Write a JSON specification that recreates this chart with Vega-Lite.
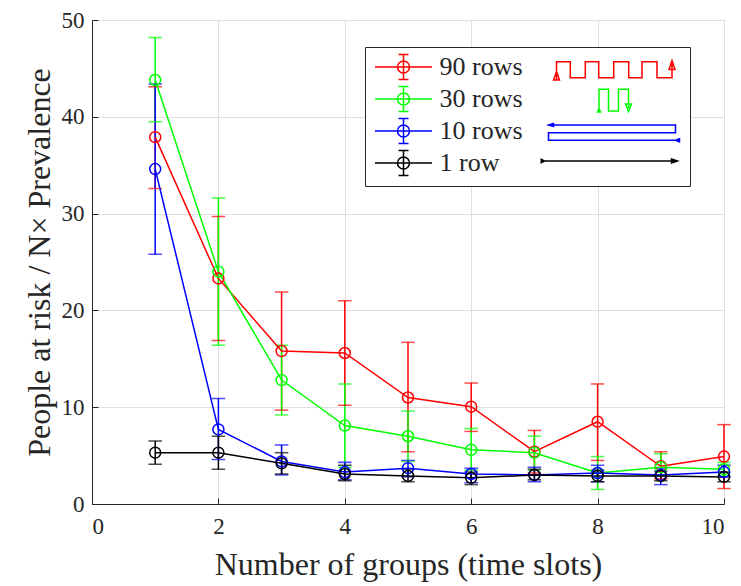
{
  "$schema": "https://vega.github.io/schema/vega-lite/v6.json",
  "autosize": {"type": "none"},
  "width": 632,
  "height": 484,
  "padding": {"left": 92, "top": 20, "right": 17, "bottom": 82},
  "background": "white",
  "config": {
    "font": "Liberation Serif",
    "view": {"stroke": "#262626", "strokeWidth": 1},
    "axis": {
      "domainColor": "#262626",
      "tickColor": "#262626",
      "labelColor": "#262626",
      "titleColor": "#262626",
      "gridColor": "#dfdfdf",
      "gridWidth": 1,
      "labelFont": "Liberation Serif",
      "titleFont": "Liberation Serif",
      "labelFontSize": 23,
      "titleFontSize": 32,
      "titleFontWeight": "normal",
      "tickSize": -6
    },
    "legend": {
      "orient": "none", "legendX": 273, "legendY": 27,
      "symbolSize": 400,
      "symbolStrokeWidth": 1.5,
      "symbolFillColor": "transparent",
      "symbolOpacity": 1,
      "symbolOffset": 18.5,
      "labelOffset": 23,
      "labelFont": "Liberation Serif",
      "labelFontSize": 26,
      "labelColor": "#262626",
      "rowPadding": 0,
      "padding": 7,
      "strokeColor": "#262626",
      "fillColor": "white"
    }
  },
  "data": {"values": [
    {"series": "90 rows", "group": 1, "value": 37.9, "lo": 32.6, "hi": 43.1},
    {"series": "90 rows", "group": 2, "value": 23.3, "lo": 16.9, "hi": 29.7},
    {"series": "90 rows", "group": 3, "value": 15.8, "lo": 9.7, "hi": 21.9},
    {"series": "90 rows", "group": 4, "value": 15.6, "lo": 10.2, "hi": 21.0},
    {"series": "90 rows", "group": 5, "value": 11.0, "lo": 5.4, "hi": 16.7},
    {"series": "90 rows", "group": 6, "value": 10.05, "lo": 7.5, "hi": 12.5},
    {"series": "90 rows", "group": 7, "value": 5.4, "lo": 3.2, "hi": 7.6},
    {"series": "90 rows", "group": 8, "value": 8.5, "lo": 4.5, "hi": 12.4},
    {"series": "90 rows", "group": 9, "value": 3.9, "lo": 2.6, "hi": 5.4},
    {"series": "90 rows", "group": 10, "value": 4.9, "lo": 1.6, "hi": 8.2},
    {"series": "30 rows", "group": 1, "value": 43.8, "lo": 39.5, "hi": 48.2},
    {"series": "30 rows", "group": 2, "value": 24.0, "lo": 16.4, "hi": 31.6},
    {"series": "30 rows", "group": 3, "value": 12.8, "lo": 9.2, "hi": 16.4},
    {"series": "30 rows", "group": 4, "value": 8.1, "lo": 3.8, "hi": 12.4},
    {"series": "30 rows", "group": 5, "value": 7.0, "lo": 4.4, "hi": 9.6},
    {"series": "30 rows", "group": 6, "value": 5.6, "lo": 3.5, "hi": 7.8},
    {"series": "30 rows", "group": 7, "value": 5.3, "lo": 3.5, "hi": 7.0},
    {"series": "30 rows", "group": 8, "value": 3.2, "lo": 1.5, "hi": 4.9},
    {"series": "30 rows", "group": 9, "value": 3.8, "lo": 2.9, "hi": 5.2},
    {"series": "30 rows", "group": 10, "value": 3.6, "lo": 2.9, "hi": 4.3},
    {"series": "10 rows", "group": 1, "value": 34.6, "lo": 25.8, "hi": 43.4},
    {"series": "10 rows", "group": 2, "value": 7.7, "lo": 4.6, "hi": 10.9},
    {"series": "10 rows", "group": 3, "value": 4.4, "lo": 3.0, "hi": 6.1},
    {"series": "10 rows", "group": 4, "value": 3.3, "lo": 2.5, "hi": 4.3},
    {"series": "10 rows", "group": 5, "value": 3.7, "lo": 2.8, "hi": 4.5},
    {"series": "10 rows", "group": 6, "value": 3.1, "lo": 2.2, "hi": 3.7},
    {"series": "10 rows", "group": 7, "value": 3.0, "lo": 2.3, "hi": 3.8},
    {"series": "10 rows", "group": 8, "value": 3.2, "lo": 2.3, "hi": 4.0},
    {"series": "10 rows", "group": 9, "value": 3.0, "lo": 2.0, "hi": 3.7},
    {"series": "10 rows", "group": 10, "value": 3.3, "lo": 2.8, "hi": 4.0},
    {"series": "1 row", "group": 1, "value": 5.3, "lo": 4.1, "hi": 6.5},
    {"series": "1 row", "group": 2, "value": 5.3, "lo": 3.6, "hi": 7.0},
    {"series": "1 row", "group": 3, "value": 4.2, "lo": 3.1, "hi": 5.3},
    {"series": "1 row", "group": 4, "value": 3.1, "lo": 2.4, "hi": 4.0},
    {"series": "1 row", "group": 5, "value": 2.9, "lo": 2.3, "hi": 3.6},
    {"series": "1 row", "group": 6, "value": 2.7, "lo": 2.0, "hi": 3.3},
    {"series": "1 row", "group": 7, "value": 3.0, "lo": 2.5, "hi": 3.6},
    {"series": "1 row", "group": 8, "value": 2.9, "lo": 2.3, "hi": 3.5},
    {"series": "1 row", "group": 9, "value": 2.9, "lo": 2.4, "hi": 3.4},
    {"series": "1 row", "group": 10, "value": 2.8, "lo": 2.3, "hi": 3.3}
  ]},
  "encoding": {
    "x": {
      "field": "group", "type": "quantitative",
      "scale": {"domain": [0, 10], "nice": false},
      "axis": {"values": [0, 2, 4, 6, 8, 10], "title": "Number of groups (time slots)", "labelPadding": 17, "titlePadding": 11, "grid": true}
    },
    "color": {
      "field": "series", "type": "nominal",
      "scale": {"domain": ["90 rows", "30 rows", "10 rows", "1 row"], "range": ["#ff0000", "#00ff00", "#0000ff", "#000000"]},
      "legend": {"title": null}
    }
  },
  "layer": [
    {
      "mark": {"type": "rule", "strokeWidth": 1.5},
      "encoding": {
        "y": {"field": "lo", "type": "quantitative", "scale": {"domain": [0, 50], "nice": false},
          "axis": {"values": [0, 10, 20, 30, 40, 50], "title": "People at risk / N× Prevalence", "labelPadding": 14, "titlePadding": 5, "grid": true}},
        "y2": {"field": "hi"}
      }
    },
    {
      "mark": {"type": "tick", "orient": "horizontal", "size": 12, "thickness": 0.01, "filled": false, "strokeWidth": 1.5},
      "encoding": {"y": {"field": "lo", "type": "quantitative"}}
    },
    {
      "mark": {"type": "tick", "orient": "horizontal", "size": 12, "thickness": 0.01, "filled": false, "strokeWidth": 1.5},
      "encoding": {"y": {"field": "hi", "type": "quantitative"}}
    },
    {
      "mark": {"type": "line", "strokeWidth": 1.5},
      "encoding": {"y": {"field": "value", "type": "quantitative"}}
    },
    {
      "mark": {"type": "point", "shape": "circle", "filled": false, "size": 120, "strokeWidth": 1.5, "opacity": 1},
      "encoding": {"y": {"field": "value", "type": "quantitative"}}
    },
    {
      "mark": {"type": "point", "filled": false, "opacity": 0},
      "encoding": {
        "y": {"field": "value", "type": "quantitative"},
        "shape": {
          "field": "series", "type": "nominal",
          "scale": {
            "domain": ["90 rows", "30 rows", "10 rows", "1 row"],
            "range": [
              "M -2.85 0 L 2.85 0 M 0.6 0 A 0.6 0.6 0 1 1 -0.6 0 A 0.6 0.6 0 1 1 0.6 0 M 0 -1.25 L 0 1.25 M -0.5 -1.25 L 0.5 -1.25 M -0.5 1.25 L 0.5 1.25 M 15.3 1.3 L 15.3 -0.53 L 16.68 -0.53 L 16.68 1.07 L 18.18 1.07 L 18.18 -0.53 L 19.52 -0.53 L 19.52 1.07 L 21.02 1.07 L 21.02 -0.53 L 22.52 -0.53 L 22.52 1.07 L 23.85 1.07 L 23.85 -0.53 L 25.35 -0.53 L 25.35 1.07 L 26.85 1.07 L 26.85 -0.4 M 15.0 1.3 L 15.3 0.45 L 15.6 1.3 Z M 26.55 0.25 L 26.85 -0.65 L 27.15 0.25 Z",
              "M -2.85 0 L 2.85 0 M 0.6 0 A 0.6 0.6 0 1 1 -0.6 0 A 0.6 0.6 0 1 1 0.6 0 M 0 -1.25 L 0 1.25 M -0.5 -1.25 L 0.5 -1.25 M -0.5 1.25 L 0.5 1.25 M 19.55 1.3 L 19.55 -0.97 L 20.5 -0.97 L 20.5 1.2 L 21.5 1.2 L 21.5 -0.97 L 22.5 -0.97 L 22.5 0.9 M 22.2 0.5 L 22.5 1.25 L 22.8 0.5 Z M 19.4 1.3 L 19.55 0.95 L 19.7 1.3 Z",
              "M -2.85 0 L 2.85 0 M 0.6 0 A 0.6 0.6 0 1 1 -0.6 0 A 0.6 0.6 0 1 1 0.6 0 M 0 -1.25 L 0 1.25 M -0.5 -1.25 L 0.5 -1.25 M -0.5 1.25 L 0.5 1.25 M 27.6 0.93 L 14.5 0.93 L 14.5 0.17 L 27.2 0.17 L 27.2 -0.6 L 14.5 -0.6 M 15.0 -0.75 L 14.5 -0.6 L 15.0 -0.45 Z M 27.6 0.78 L 27.2 0.93 L 27.6 1.08 Z",
              "M -2.85 0 L 2.85 0 M 0.6 0 A 0.6 0.6 0 1 1 -0.6 0 A 0.6 0.6 0 1 1 0.6 0 M 0 -1.25 L 0 1.25 M -0.5 -1.25 L 0.5 -1.25 M -0.5 1.25 L 0.5 1.25 M 13.7 -0.2 L 27.4 -0.2 M 26.8 -0.4 L 27.4 -0.2 L 26.8 0 Z M 13.7 -0.4 L 14.1 -0.2 L 13.7 0"
            ]
          },
          "legend": {"title": null}
        }
      }
    }
  ]
}
